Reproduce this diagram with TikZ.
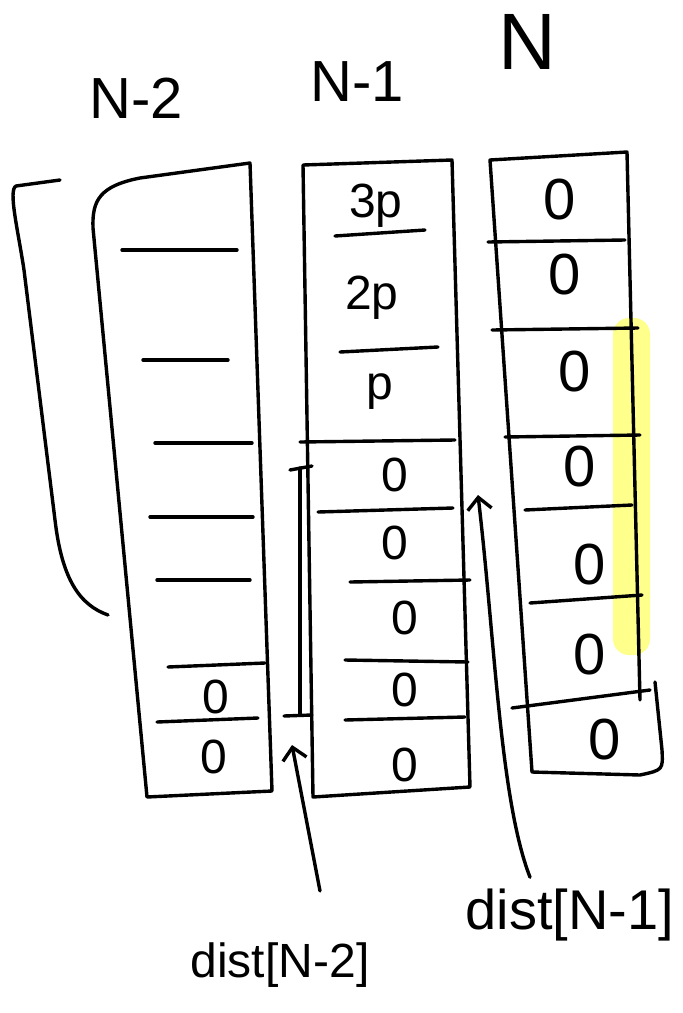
\documentclass[tikz,border=0pt]{standalone}
\usepackage{fontspec}
\setmainfont{Liberation Sans}
\usetikzlibrary{arrows.meta,backgrounds}
\definecolor{hilite}{RGB}{255,255,140}

\begin{document}
\begin{tikzpicture}[
  x=1pt,y=-1pt,
  line width=3.4pt,
  line cap=round,line join=round,
  >={Straight Barb[length=12pt,width=24pt]},
  head/.style={font=\fontsize{58}{58}\selectfont,inner sep=0pt},
  cell/.style={font=\fontsize{48}{48}\selectfont,inner sep=0pt},
  bigcell/.style={font=\fontsize{58}{58}\selectfont,inner sep=0pt},
  tag/.style={font=\fontsize{48}{48}\selectfont,inner sep=0pt},
  pointer/.style={->},
  glow/.style={fill=hilite,rounded corners=16pt}
]
\useasboundingbox (0,0) rectangle (683,1013);

% ===== Headers =====
\node[head] (hA) at (136,98) {N-2};
\node[head] (hB) at (357,82) {N-1};
\node[head,font=\fontsize{80}{80}\selectfont] (hC) at (527,42) {N};

% ===== Column N-2 =====
\draw (60,180) -- (16,186) .. controls (8,190) and (18,230) .. (24,270) -- (55,520) .. controls (62,580) and (80,605) .. (108,615);
\draw (250,163) -- (140,178) .. controls (100,186) and (92,200) .. (93,228) -- (147,797) -- (272,791) -- cycle;
\foreach \ya/\xl/\xr in {250/122/237,360/143/228,443/155/252,517/150/253,580/157/250}
  \draw (\xl,\ya) -- (\xr,\ya);
\draw (168,667) -- (265,663);
\draw (157,722) -- (258,718);
\node[cell] (a1) at (216,697) {0};
\node[cell] (a2) at (214,757) {0};

% ===== Column N-1 =====
\draw (303,165) -- (452,160) -- (470,787) -- (313,797) -- cycle;
\draw (335,236) -- (425,230);
\draw (340,352) -- (438,347);
\draw (300,442) -- (455,440);
\draw (318,512) -- (453,508);
\draw (350,582) -- (470,580);
\draw (345,660) -- (468,662);
\draw (345,720) -- (465,717);
\node[cell] (b1) at (376,206) {3p};
\node[cell] (b2) at (372,298) {2p};
\node[cell] (b3) at (380,392) {p};
\node[cell] (b4) at (395,475) {0};
\node[cell] (b5) at (395,543) {0};
\node[cell] (b6) at (405,618) {0};
\node[cell] (b7) at (405,690) {0};
\node[cell] (b8) at (405,765) {0};

% ===== Column N =====
\begin{scope}[on background layer]
  \fill[glow] (613,318) rectangle (650,655);
\end{scope}
\draw (655,682) -- (662,750) .. controls (663,770) .. (640,775) -- (532,772) -- (490,160) -- (627,152) -- (640,700);
\draw (488,242) -- (625,240);
\draw (492,330) -- (638,328);
\draw (505,437) -- (640,435);
\draw (525,510) -- (632,505);
\draw (530,603) -- (642,595);
\draw (512,708) -- (650,690);
\node[bigcell] (c1) at (560,200) {0};
\node[bigcell] (c2) at (565,275) {0};
\node[bigcell] (c3) at (575,372) {0};
\node[bigcell] (c4) at (580,467) {0};
\node[bigcell] (c5) at (590,565) {0};
\node[bigcell] (c6) at (590,655) {0};
\node[bigcell] (c7) at (605,740) {0};

% ===== Range Bracket =====
\draw (290,470) -- (312,466);
\draw (300,468) -- (300,714);
\draw (284,716) -- (312,715);

% ===== Pointers =====
\node[tag] (dA) at (280,965) {dist[N-2]};
\node[tag,font=\fontsize{56}{56}\selectfont] (dB) at (570,915) {dist[N-1]};
\coordinate (tipA) at (292,745);
\coordinate (tipB) at (478,495);
\draw[pointer] ([xshift=40pt,yshift=50pt]dA.north) -- (tipA);
\draw[pointer] ([xshift=-40pt,yshift=10pt]dB.north) .. controls (500,800) and (495,640) .. (tipB);

\end{tikzpicture}
\end{document}
